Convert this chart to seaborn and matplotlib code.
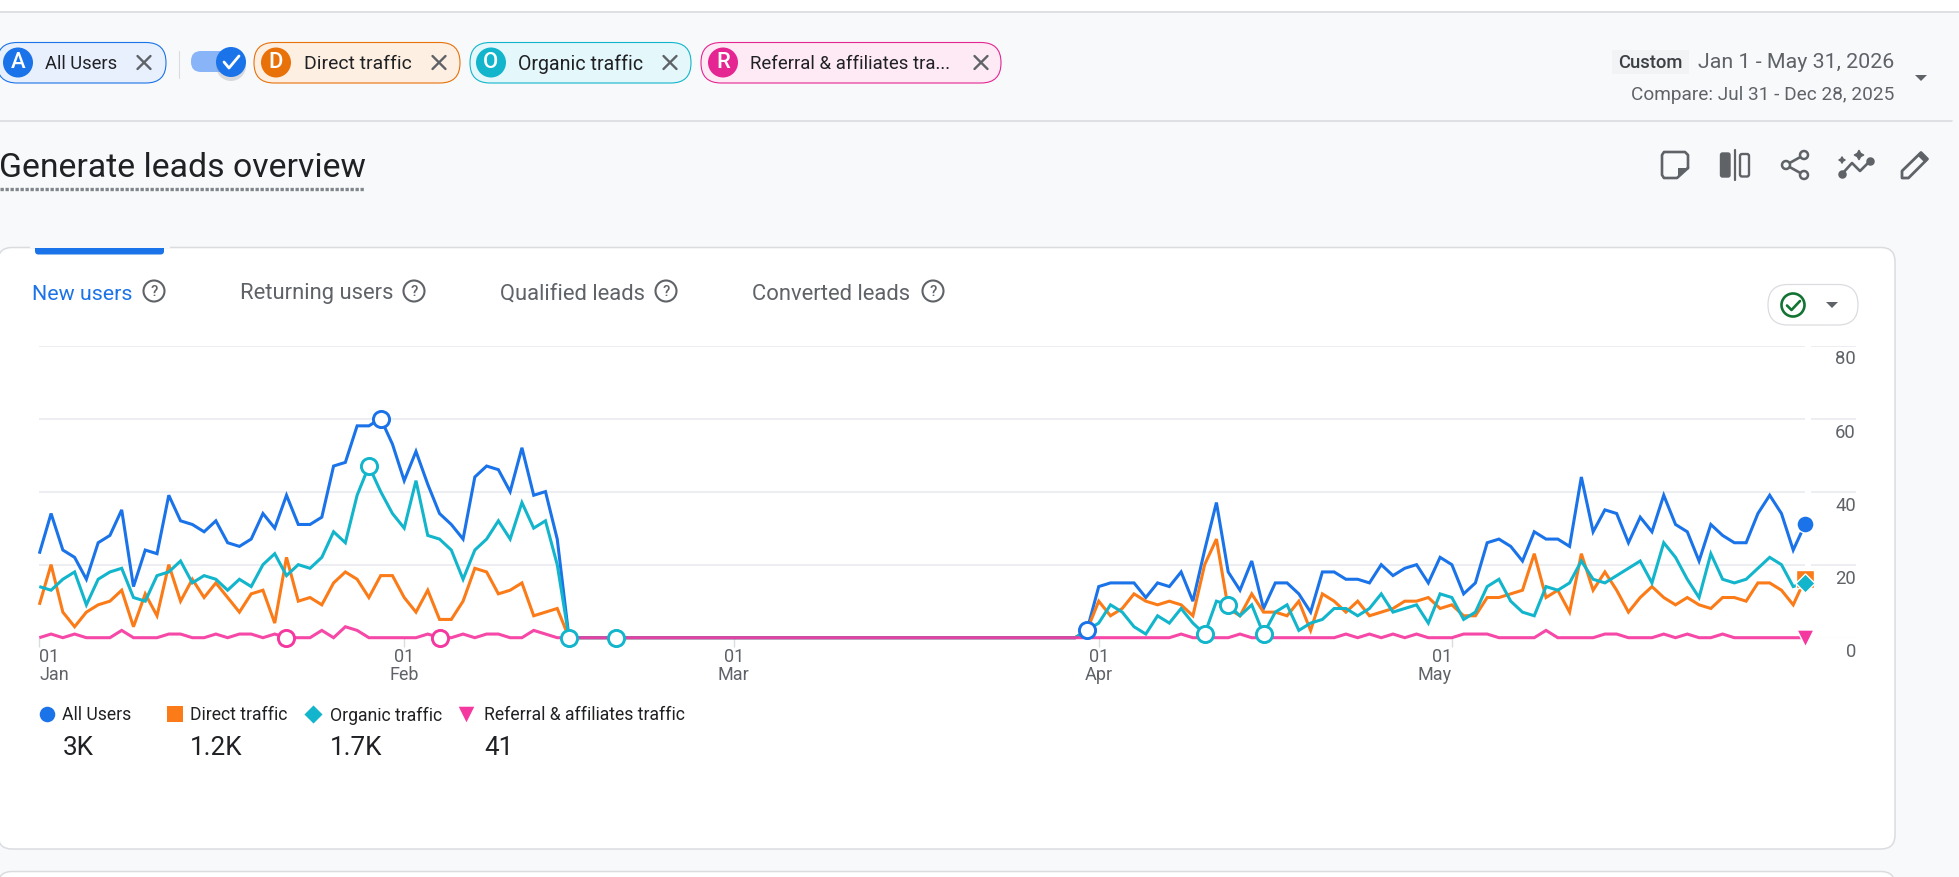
import numpy as np
import pandas as pd
import matplotlib
matplotlib.use("Agg")
import matplotlib.pyplot as plt
import matplotlib.dates as mdates
from matplotlib.patches import FancyBboxPatch, Circle, Polygon, Rectangle
from matplotlib.transforms import ScaledTranslation
import seaborn as sns

# ---- daily values, 1 Jan to 31 May 2026 ----
all_users = [
    23,34,24,22,16,26,28,35,14,24,23,39,32,31,29,32,26,25,27,34,30,39,31,31,33,
    47,48,58,58,60,53,43,51,42,34,31,27,44,47,46,40,52,39,40,27,
    0,0,0,0,0,0,0,0,0,0,0,0,0,0,0,0,0,0,0,0,0,0,0,0,0,0,0,0,0,0,0,0,0,0,0,0,0,0,0,0,0,0,0,0,
    2,14,15,15,15,11,15,14,18,10,24,37,18,13,21,8,15,15,12,7,18,18,16,
    16,15,20,17,19,20,15,22,20,12,15,26,27,25,21,29,27,27,25,44,29,35,34,26,33,
    29,39,31,29,21,31,28,26,26,34,39,34,24,31]
direct_traffic = [
    9,20,7,3,7,9,10,13,3,12,6,20,10,16,11,15,11,7,12,13,4,22,10,11,9,
    15,18,16,11,17,17,11,7,13,5,5,10,19,18,12,13,15,6,7,8,
    0,0,0,0,0,0,0,0,0,0,0,0,0,0,0,0,0,0,0,0,0,0,0,0,0,0,0,0,0,0,0,0,0,0,0,0,0,0,0,0,0,0,0,0,
    2,10,6,8,12,10,9,10,9,6,20,27,8,6,12,7,7,6,10,2,12,10,7,
    10,6,7,8,10,10,11,8,9,6,6,11,11,12,13,23,11,13,7,23,13,18,13,7,11,
    14,11,9,11,9,8,11,11,10,15,15,13,9,16]
organic_traffic = [
    14,13,16,18,9,16,18,19,11,10,17,18,21,15,17,16,13,16,14,20,23,17,20,19,22,
    29,26,39,47,40,34,30,43,28,27,24,16,24,27,32,27,37,30,32,20,
    0,0,0,0,0,0,0,0,0,0,0,0,0,0,0,0,0,0,0,0,0,0,0,0,0,0,0,0,0,0,0,0,0,0,0,0,0,0,0,0,0,0,0,0,
    2,4,9,7,3,1,6,4,8,4,1,10,9,6,9,1,7,9,2,4,5,8,8,
    6,8,12,7,8,9,4,12,11,5,7,14,16,10,7,6,14,13,15,21,16,15,17,19,21,
    15,26,22,16,11,23,16,15,16,19,22,20,14,15]
referral_traffic = [
    0,1,0,1,0,0,0,2,0,0,0,1,1,0,0,1,0,1,1,0,1,0,0,0,2,
    0,3,2,0,0,0,0,0,1,0,0,1,0,1,1,0,0,2,1,0,
    0,0,0,0,0,0,0,0,0,0,0,0,0,0,0,0,0,0,0,0,0,0,0,0,0,0,0,0,0,0,0,0,0,0,0,0,0,0,0,0,0,0,0,0,
    0,0,0,0,0,0,0,0,1,0,0,0,0,1,0,0,0,0,0,0,0,0,1,
    0,1,0,1,0,1,0,0,0,1,1,1,0,0,0,0,2,0,0,0,0,1,1,0,0,
    0,1,0,1,0,0,1,0,0,0,0,0,0,0]

series_names = ["All Users", "Direct traffic", "Organic traffic", "Referral & affiliates traffic"]
series_totals = ["3K", "1.2K", "1.7K", "41"]
series_colors = ["#1a73e8", "#fa7b17", "#12b5cb", "#f538a0"]
series_markers = ["o", "s", "D", "v"]
series_values = [all_users, direct_traffic, organic_traffic, referral_traffic]
# days flagged as anomalies (hollow circles), as day offsets from 1 Jan
anomaly_days = [[29, 89], [], [28, 45, 49, 99, 101, 104], [21, 34]]
y_ticks = [0, 20, 40, 60, 80]
month_ticks = ["2026-01-01", "2026-02-01", "2026-03-01", "2026-04-01", "2026-05-01"]
month_labels = ["01\nJan", "01\nFeb", "01\nMar", "01\nApr", "01\nMay"]
tab_labels = ["New users", "Returning users", "Qualified leads", "Converted leads"]

dates = pd.date_range("2026-01-01", "2026-05-31", freq="D")
frame = pd.concat([pd.DataFrame({"date": dates, "users": v, "series": n})
                   for n, v in zip(series_names, series_values)], ignore_index=True)

sns.set_theme(style="white")
plt.rcParams["font.family"] = ["Roboto", "DejaVu Sans"]

W, H = 1959, 877
PAGE = "#f8f9fa"
GREY = "#5f6368"
DARK = "#202124"
LINE = "#dadce0"
fig = plt.figure(figsize=(W / 100, H / 100), dpi=100, facecolor=PAGE)

# ---- page furniture, in pixel coordinates ----
ui = fig.add_axes([0, 0, 1, 1], zorder=0)
ui.set_xlim(0, W)
ui.set_ylim(H, 0)
ui.axis("off")


def px(size):
    return size * 0.72


def label(x, y, s, size, color=DARK, ha="left", va="center", **kw):
    return ui.text(x, y, s, fontsize=px(size), color=color, ha=ha, va=va, **kw)


def rbox(x0, y0, x1, y1, r, fc, ec, lw=1.0, z=1):
    ui.add_patch(FancyBboxPatch((x0, y0), x1 - x0, y1 - y0,
                                boxstyle=f"round,pad=0,rounding_size={r}",
                                fc=fc, ec=ec, lw=lw, zorder=z))


def cross(x, y, r=6.5):
    ui.plot([x - r, x + r], [y - r, y + r], color=GREY, lw=1.7, zorder=3)
    ui.plot([x - r, x + r], [y + r, y - r], color=GREY, lw=1.7, zorder=3)


def caret(x, y, w=6, h=6):
    ui.add_patch(Polygon([(x - w, y - h / 2), (x + w, y - h / 2), (x, y + h / 2)],
                         fc=GREY, ec="none", zorder=3))


ui.add_patch(Rectangle((0, 0), W, 11, fc="white", ec="none"))
ui.plot([0, W], [11.5, 11.5], color=LINE, lw=1.2)
ui.plot([0, 1952], [120.5, 120.5], color=LINE, lw=1.2)

# comparison chips
chips = [
    (-3, 166, 18, 45, 144, "A", "All Users", 18.4, "#e8f0fe", "#1a73e8"),
    (254, 460, 276, 304, 439, "D", "Direct traffic", 19.4, "#feefe3", "#e8710a"),
    (470, 691, 491, 518.5, 670, "O", "Organic traffic", 19.6, "#e4f7fb", "#12b5cb"),
    (701, 1001, 723, 750, 981, "R", "Referral & affiliates tra...", 18.7, "#fdeaf5", "#e52592"),
]
for x0, x1, cx, tx, xx, letter, name, size, fill, edge in chips:
    rbox(x0, 42.5, x1, 83, 20, fill, edge, lw=0.8)
    ui.add_patch(Circle((cx, 62.5), 15, fc=edge, ec="none", zorder=3))
    label(cx, 63, letter, 22, color="white", ha="center", zorder=4, fontweight="medium")
    label(tx, 64, name, size, zorder=3)
    cross(xx, 62.5)

ui.plot([179, 179], [51, 78], color=LINE, lw=0.8)
rbox(191, 51, 240, 72, 10, "#8ab4f8", "none", z=2)
ui.add_patch(Circle((231, 66), 15, fc="#9aa0a6", ec="none", alpha=0.35, zorder=2))
ui.add_patch(Circle((231, 62), 15, fc="#1a73e8", ec="none", zorder=3))
ui.plot([224, 229, 239], [62, 68, 56], color="white", lw=2.0, zorder=4)

# date range
rbox(1612, 50, 1689, 74, 1, "#f1f3f4", "none")
label(1650.5, 63, "Custom", 18.5, color="#3c4043", ha="center", fontweight="medium", zorder=3)
label(1894, 63, "Jan 1 - May 31, 2026", 21.4, color=GREY, ha="right")
label(1894, 94.5, "Compare: Jul 31 - Dec 28, 2025", 19, color=GREY, ha="right")
caret(1921, 78)

# report title with its dotted underline
label(-1, 168, "Generate leads overview", 33.8, color=DARK)
ui.plot([0, 365], [188.5, 188.5], color="#80868b", lw=2.4, dashes=(1.0, 0.5))

# toolbar icons
ICON = dict(color=GREY, lw=1.9, solid_capstyle="round", solid_joinstyle="round", zorder=3)
ui.plot([1688, 1688, 1685, 1664, 1662, 1662, 1664, 1677, 1688],
        [168, 155, 152, 152, 155, 175, 178, 178, 168], **ICON)
ui.add_patch(Polygon([(1688, 168), (1678, 168), (1678, 178)], fc=GREY, ec="none", zorder=3))
rbox(1720.5, 153, 1730, 177, 2, GREY, GREY)
ui.plot([1734.7, 1734.7], [150, 180], color=GREY, lw=1.6, zorder=3)
rbox(1740, 154, 1749, 176.5, 2, "none", GREY, lw=1.7)
ui.plot([1804, 1786, 1804], [155, 165, 175], **ICON)
for cx, cy in [(1804, 155), (1786, 165), (1804, 175)]:
    ui.add_patch(Circle((cx, cy), 4, fc=PAGE, ec=GREY, lw=1.8, zorder=4))
ui.plot([1842, 1852, 1860, 1870], [174, 163, 171, 161], **ICON)
ui.scatter([1842, 1870], [174, 161], s=26, color=GREY, zorder=4)
ui.scatter([1842, 1859], [160, 155], s=[20, 45], marker=(4, 1, 0), color=GREY, zorder=4)
ui.add_patch(Polygon([(1902, 178), (1902, 171), (1921, 152.5), (1927.5, 159), (1908.5, 178)],
                     fc="none", ec=GREY, lw=2.0, joinstyle="round", zorder=3))
ui.add_patch(Polygon([(1918, 155), (1921, 152.5), (1927.5, 159), (1925, 162)],
                     fc=GREY, ec=GREY, lw=1, zorder=3))

# cards
rbox(-2, 247.5, 1895, 849, 14, "white", LINE, lw=1.1)
rbox(-2, 871.5, 1895, 930, 14, "white", LINE, lw=1.1)

# active tab marker and tab headings
rbox(35, 244, 164, 254.5, 3.5, "#1a73e8", "none", z=2)
ui.add_patch(Rectangle((30, 240), 140, 7.5, fc=PAGE, ec="none", zorder=2))
tab_text_x = [32.5, 240, 500, 752.5]
tab_text_size = [21.4, 22, 22, 22]
help_x = [154, 414, 666, 933]
for i, (name, tx, size, hx) in enumerate(zip(tab_labels, tab_text_x, tab_text_size, help_x)):
    label(tx, 294, name, size, color="#1a73e8" if i == 0 else GREY, zorder=3)
    ui.add_patch(Circle((hx, 291), 10.5, fc="none", ec=GREY, lw=1.5, zorder=3))
    label(hx, 291.5, "?", 15, color=GREY, ha="center", zorder=3, fontweight="medium")

# status pill
rbox(1768, 284.5, 1858, 325, 20, "white", LINE, lw=0.9, z=2)
ui.add_patch(Circle((1793, 305), 11.5, fc="none", ec="#137333", lw=1.9, zorder=3))
ui.plot([1787, 1791.5, 1800], [305.5, 310, 301], color="#137333", lw=1.9, zorder=3)
caret(1832, 305)

# legend and totals beneath the chart
legend_marker_x = [46.5, 174.5, 313, 466]
legend_text_x = [62.5, 190, 330, 484]
for name, total, color, mark, mx, tx in zip(series_names, series_totals, series_colors,
                                            series_markers, legend_marker_x, legend_text_x):
    ui.scatter([mx], [714], marker=mark, s=125 if mark != "D" else 85, color=color,
               linewidths=0, zorder=3)
    label(tx, 715.5, name, 17.6, zorder=3)
    label(tx, 748, total, 26, zorder=3)

# ---- the chart itself ----
x_left, x_last, x_right = 39.3, 1805.0, 1856.0
day_px = (x_last - x_left) / 150
y_zero, y_top = 637.7, 345.5
ax = fig.add_axes([x_left / W, 1 - y_zero / H, (x_right - x_left) / W, (y_zero - y_top) / H],
                  zorder=2)
ax.patch.set_alpha(0)
for spine in ax.spines.values():
    spine.set_visible(False)

start = mdates.date2num(dates[0])
end = mdates.date2num(dates[-1])
limit = start + (x_right - x_left) / day_px
for tick in y_ticks[1:]:
    ax.hlines(tick, start, end, color="#e8eaed", lw=1.1, zorder=1)
    ax.hlines(tick, end + 0.5, limit, color="#e8eaed", lw=1.1, zorder=1)
ax.hlines(0, start, limit, color="#e8eaed", lw=0.9, zorder=1)

palette = dict(zip(series_names, series_colors))
sns.lineplot(data=frame, x="date", y="users", hue="series", hue_order=series_names,
             palette=palette, estimator=None, errorbar=None, legend=False,
             linewidth=2.2, ax=ax, zorder=3, clip_on=False)
for line in ax.get_lines():
    line.set_solid_joinstyle("miter")
    line.set_solid_capstyle("butt")
ax.get_lines()[-1].set_alpha(0.92)

# hollow anomaly circles
for name, color, values, days in zip(series_names, series_colors, series_values, anomaly_days):
    if days:
        sns.scatterplot(x=dates[days], y=[values[d] for d in days], ax=ax, s=135,
                        facecolor="white", edgecolor=color, linewidth=2.1,
                        zorder=6, clip_on=False, legend=False)

# end-of-series markers
for name, color, mark, values in zip(series_names, series_colors, series_markers, series_values):
    sns.scatterplot(x=dates[-1:], y=values[-1:], ax=ax, marker=mark,
                    s=150 if mark != "D" else 95, color=color, edgecolor="white",
                    linewidth=1.0, zorder=7, clip_on=False, legend=False)

ax.set_xlim(start, limit)
ax.set_ylim(0, 80)
ax.set_xlabel("")
ax.set_ylabel("")

ax.set_xticks(mdates.date2num(pd.to_datetime(month_ticks)))
ax.set_xticklabels(month_labels)
ax.tick_params(axis="x", length=6.5, width=1.0, color=LINE, pad=1.2,
               labelsize=px(18), labelcolor=GREY, bottom=True)
alignments = ["left", "center", "center", "center", "right"]
for lab, align in zip(ax.get_xticklabels(), alignments):
    lab.set_ha(align)
    lab.set_multialignment(align)
    lab.set_linespacing(0.98)

ax.set_yticks(y_ticks)
ax.set_yticklabels([str(t) for t in y_ticks])
ax.tick_params(axis="y", left=False, right=False, length=0, labelleft=False, labelright=True,
               pad=0, labelsize=px(18.5), labelcolor=GREY)
shift = ScaledTranslation(0, -12 / 100, fig.dpi_scale_trans)
for tick in ax.yaxis.get_major_ticks():
    tick.label2.set_ha("right")
    tick.label2.set_transform(tick.label2.get_transform() + shift)

fig.savefig("out.png", dpi=100, facecolor=PAGE)
